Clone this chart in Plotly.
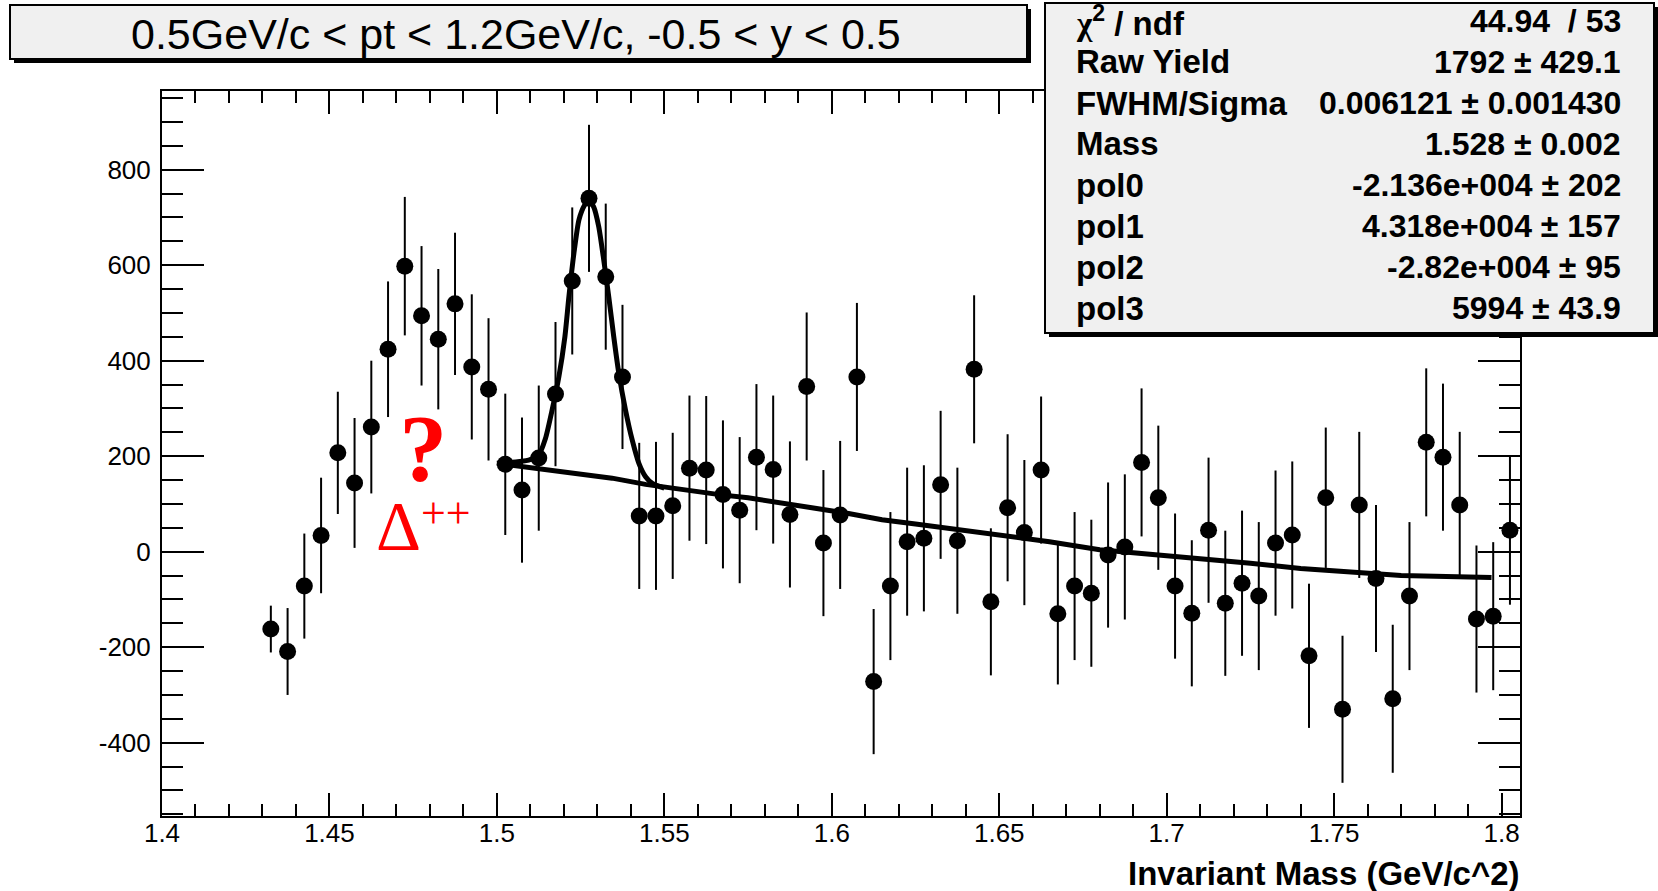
import plotly.graph_objects as go

# ---------------- data ----------------
mass = [1.4325, 1.4375, 1.4425, 1.4475, 1.4525, 1.4575, 1.4625, 1.4675, 1.4725, 1.4775,
        1.4825, 1.4875, 1.4925, 1.4975, 1.5025, 1.5075, 1.5125, 1.5175, 1.5225, 1.5275,
        1.5325, 1.5375, 1.5425, 1.5475, 1.5525, 1.5575, 1.5625, 1.5675, 1.5725, 1.5775,
        1.5825, 1.5875, 1.5925, 1.5975, 1.6025, 1.6075, 1.6125, 1.6175, 1.6225, 1.6275,
        1.6325, 1.6375, 1.6425, 1.6475, 1.6525, 1.6575, 1.6625, 1.6675, 1.6725, 1.6775,
        1.6825, 1.6875, 1.6925, 1.6975, 1.7025, 1.7075, 1.7125, 1.7175, 1.7225, 1.7275,
        1.7325, 1.7375, 1.7425, 1.7475, 1.7525, 1.7575, 1.7625, 1.7675, 1.7725, 1.7775,
        1.7825, 1.7875, 1.7925, 1.7975, 1.8025]

counts = [-162, -209, -72, 34, 207, 144, 261, 424, 598, 494,
          445, 519, 387, 340, 183, 129, 196, 330, 567, 740,
          576, 366, 75, 75, 96, 175, 171, 120, 87, 198,
          172, 78, 346, 18, 77, 366, -272, -72, 21, 28,
          140, 23, 382, -105, 92, 40, 171, -130, -72, -87,
          -7, 10, 187, 113, -72, -129, 45, -108, -66, -93,
          18, 35, -218, 113, -330, 98, -56, -308, -93, 229,
          198, 98, -141, -135, 45]

errors = [49, 91, 110, 121, 128, 136, 139, 142, 145, 146,
          147, 149, 152, 149, 148, 152, 152, 151, 154, 154,
          153, 151, 153, 155, 153, 152, 155, 155, 153, 153,
          155, 153, 155, 153, 155, 155, 152, 155, 155, 153,
          155, 153, 155, 154, 154, 152, 154, 148, 155, 154,
          152, 152, 155, 151, 152, 153, 152, 152, 152, 155,
          152, 154, 151, 147, 154, 153, 154, 155, 155, 155,
          154, 153, 154, 155, 156]

# fit curve (gaussian + pol3)
fit_peak_x = [1.5000, 1.5095, 1.5125, 1.5145, 1.5165, 1.5185, 1.5203, 1.5215, 1.5230, 1.5245,
              1.5262, 1.5274, 1.5289, 1.5304, 1.5319, 1.5334, 1.5349, 1.5364, 1.5384, 1.5404,
              1.5424, 1.5444, 1.5464, 1.5500]
fit_peak_y = [185, 192, 203, 237, 297, 366, 450, 534, 625, 695,
              726, 736, 722, 681, 611, 534, 450, 374, 297, 234,
              185, 157, 143, 133]

# background (pol3) line
bkg_x = [1.500, 1.5145, 1.5244, 1.5344, 1.5444, 1.555, 1.567, 1.575, 1.585, 1.595,
         1.605, 1.615, 1.625, 1.635, 1.645, 1.655, 1.665, 1.680, 1.695, 1.710,
         1.725, 1.740, 1.755, 1.770, 1.797]
bkg_y = [185, 171, 162, 154, 141, 130, 119, 113, 103, 91,
         80, 67, 58, 49, 39, 31, 21, 4, -5, -16,
         -24, -35, -43, -50, -54]

y_tick_vals = [-400, -200, 0, 200, 400, 600, 800]
y_tick_text = ["-400", "-200", "0", "200", "400", "600", "800"]

title_text = "0.5GeV/c < pt < 1.2GeV/c, -0.5 < y < 0.5"
stat_labels = ["<span style=\"font-family:'Liberation Serif'\">χ</span><sup>2</sup> / ndf",
               "Raw Yield", "FWHM/Sigma", "Mass", "pol0", "pol1", "pol2", "pol3"]
stat_values = ["44.94  / 53", "1792 ± 429.1", "0.006121 ± 0.001430", "1.528 ± 0.002",
               "-2.136e+004 ± 202", "4.318e+004 ± 157", "-2.82e+004 ± 95", "5994 ± 43.9"]
delta_note = ("<span style=\"font-size:96px\"><b>?</b></span><br>"
              "<span style=\"font-size:70px\">Δ</span>"
              "<sup><span style=\"font-size:44px\">++</span></sup>")

# ---------------- layout helpers ----------------
W, H = 1658, 891
L, R, T, B = 162, 1520, 91, 816


def px(x):
    return (x - L) / (R - L)


def py(y):
    return (B - y) / (B - T)


SANS = "Liberation Sans, Arial, Helvetica, sans-serif"
SERIF = "Liberation Serif, Times New Roman, serif"

fig = go.Figure()

fig.add_trace(go.Scatter(
    x=mass, y=counts, mode="markers",
    marker=dict(color="black", size=17, symbol="circle"),
    error_y=dict(type="data", array=errors, color="black", thickness=2, width=0),
    showlegend=False, hoverinfo="skip"))

fig.add_trace(go.Scatter(
    x=bkg_x, y=bkg_y, mode="lines",
    line=dict(color="black", width=5),
    showlegend=False, hoverinfo="skip"))

fig.add_trace(go.Scatter(
    x=fit_peak_x, y=fit_peak_y, mode="lines",
    line=dict(color="black", width=5, shape="spline", smoothing=0.6),
    showlegend=False, hoverinfo="skip"))

shapes = [
    # title box with shadow
    dict(type="rect", xref="paper", yref="paper", x0=px(14), x1=px(1031), y0=py(63), y1=py(9),
         fillcolor="black", line=dict(width=0), layer="above"),
    dict(type="rect", xref="paper", yref="paper", x0=px(10), x1=px(1027), y0=py(59), y1=py(5),
         fillcolor="#f0f0f0", line=dict(color="black", width=2), layer="above"),
    # stats box with shadow
    dict(type="rect", xref="paper", yref="paper", x0=px(1049), x1=px(1658), y0=py(337), y1=py(7),
         fillcolor="black", line=dict(width=0), layer="above"),
    dict(type="rect", xref="paper", yref="paper", x0=px(1045), x1=px(1654), y0=py(333), y1=py(3),
         fillcolor="#f0f0f0", line=dict(color="black", width=2), layer="above"),
]

annotations = [
    dict(text=title_text, xref="paper", yref="paper", x=px(516), y=py(34),
         xanchor="center", yanchor="middle", showarrow=False,
         font=dict(family=SANS, size=43, color="black")),
    dict(text="<b>Invariant Mass (GeV/c^2)</b>", xref="paper", yref="paper",
         x=px(1522), y=py(873), xanchor="right", yanchor="middle", showarrow=False,
         font=dict(family=SANS, size=33, color="black")),
    dict(text=delta_note, xref="paper", yref="paper", x=px(423), y=py(480),
         xanchor="center", yanchor="middle", align="center", showarrow=False,
         font=dict(family=SERIF, size=53, color="#ff0000")),
]

row_y0, row_dy = 21, 41
for i, (lab, val) in enumerate(zip(stat_labels, stat_values)):
    yy = row_y0 + row_dy * i
    annotations.append(dict(text="<b>" + lab + "</b>", xref="paper", yref="paper",
                            x=px(1074), y=py(yy), xanchor="left", yanchor="middle",
                            showarrow=False, font=dict(family=SANS, size=33, color="black")))
    annotations.append(dict(text="<b>" + val + "</b>", xref="paper", yref="paper",
                            x=px(1623), y=py(yy), xanchor="right", yanchor="middle",
                            showarrow=False, font=dict(family=SANS, size=32, color="black")))

fig.update_layout(
    width=W, height=H,
    margin=dict(l=L, r=W - R, t=T, b=H - B, pad=0),
    paper_bgcolor="white", plot_bgcolor="white",
    shapes=shapes, annotations=annotations,
    showlegend=False,
    xaxis=dict(
        range=[1.4, 1.8055], tickmode="linear", tick0=1.4, dtick=0.05,
        ticks="inside", ticklen=23, tickwidth=2, tickcolor="black",
        minor=dict(ticks="inside", ticklen=12, tickwidth=2, tickcolor="black",
                   tickmode="linear", tick0=1.4, dtick=0.01),
        showline=True, linecolor="black", linewidth=2, mirror="allticks",
        showgrid=False, zeroline=False, ticklabelstandoff=-7,
        tickfont=dict(family=SANS, size=26, color="black"),
    ),
    yaxis=dict(
        range=[-553.5, 964.8], tickmode="array", tickvals=y_tick_vals, ticktext=y_tick_text,
        ticks="inside", ticklen=42, tickwidth=2, tickcolor="black",
        minor=dict(ticks="inside", ticklen=21, tickwidth=2, tickcolor="black",
                   tickmode="linear", tick0=0, dtick=50),
        showline=True, linecolor="black", linewidth=2, mirror="allticks",
        showgrid=False, zeroline=False, ticklabelstandoff=4,
        tickfont=dict(family=SANS, size=26, color="black"),
    ),
)

fig.write_html("out.html", config={"displayModeBar": False},
               post_script="document.body.style.margin='0';document.body.style.overflow='hidden';")
